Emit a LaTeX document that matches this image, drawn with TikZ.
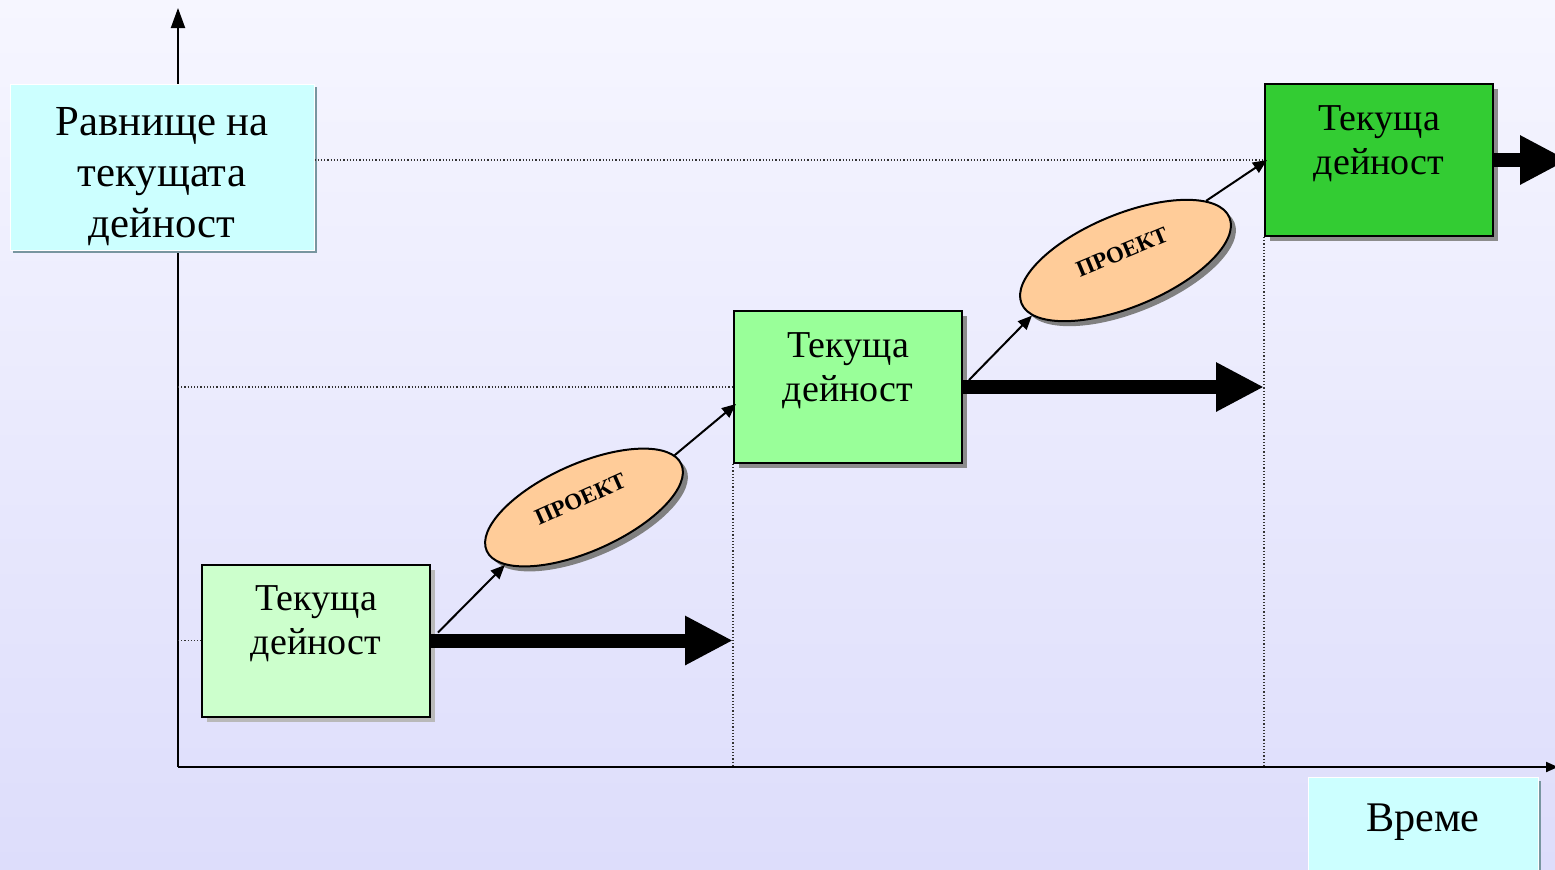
\documentclass[tikz,border=0pt]{standalone}
\usepackage{fontspec}
\setmainfont{Liberation Serif}
\usetikzlibrary{arrows.meta,shapes.geometric,shadows,calc}
\definecolor{bgtop}{RGB}{246,246,255}
\definecolor{bgbot}{RGB}{221,221,251}
\definecolor{lblfill}{RGB}{204,255,255}
\definecolor{lblshadow}{RGB}{120,150,160}
\definecolor{actA}{RGB}{204,255,204}
\definecolor{actB}{RGB}{153,255,153}
\definecolor{actC}{RGB}{51,204,51}
\definecolor{projfill}{RGB}{255,204,153}
\begin{document}
\begin{tikzpicture}[x=0.5pt,y=-0.5pt,
  labelbox/.style={fill=lblfill, draw=white, line width=0.5pt, align=center, inner sep=0pt,
    drop shadow={shadow xshift=1.5pt, shadow yshift=-1.5pt, fill=lblshadow, opacity=1}},
  actbox/.style={draw=black, line width=1pt, minimum width=114pt, minimum height=76pt,
    align=center, font=\fontsize{19}{22}\selectfont, inner sep=0pt,
    text height=45pt, text depth=31pt},
  actshadow/.style={drop shadow={shadow xshift=2.5pt, shadow yshift=-2.5pt, fill=gray!90, opacity=1}},
  proj/.style={ellipse, draw=black, line width=1pt, fill=projfill,
    font=\bfseries\fontsize{11.5}{13}\selectfont, inner sep=0pt,
    text height=8pt, text depth=9.5pt,
    drop shadow={shadow xshift=2.5pt, shadow yshift=-2.5pt, fill=gray, opacity=1}},
  link/.style={line width=1pt, -{Triangle[length=7pt,width=6pt]}},
  flow/.style={line width=7pt, -{Triangle[length=24pt,width=23pt]}},
  guide/.style={densely dotted, line width=0.6pt, black!80},
  axisline/.style={line width=1pt}
]
\shade[top color=bgtop, bottom color=bgbot] (0,0) rectangle (1555,869);
\useasboundingbox (0,0) rectangle (1555,869);

% axes
\coordinate (O) at (178,767);
\coordinate (ytop) at (178,8);
\coordinate (xend) at (1558,767);
\draw[axisline, -{Triangle[length=10pt,width=7pt]}] (O) -- (ytop);
\draw[axisline, -{Triangle[length=6pt,width=5pt]}] (O) -- (xend);

% labels
\node[labelbox, minimum width=152pt, minimum height=83pt, text height=76.5pt, text depth=6.5pt,
  font=\fontsize{21.4}{25.5}\selectfont]
  (lvl) at (162,167) {Равнище на\\текущата\\дейност};
\node[labelbox, anchor=north, minimum width=115pt, text height=27pt, text depth=24.5pt,
  inner ysep=0pt, font=\fontsize{21.1}{25}\selectfont] (time) at (1423,777) {Време};

% activity boxes
\node[actbox, fill=actA, drop shadow={shadow xshift=2.5pt, shadow yshift=-2.5pt, fill=gray!55, opacity=1}]
  (b1) at (316,640.5) {Текуща\\дейност};
\node[actbox, actshadow, fill=actB] (b2) at (848,387) {Текуща\\дейност};
\node[actbox, actshadow, fill=actC] (b3) at (1379,160) {Текуща\\дейност};

% guides
\draw[guide] (lvl.east |- b3.west) -- (b3.west);
\draw[guide] (O |- b2.west) -- (b2.west);
\draw[guide] (O |- b1.west) -- (b1.west);
\draw[guide] (b2.south west) -- (b2.south west |- O);
\draw[guide] (b3.south west) -- (b3.south west |- O);

% projects
\node[proj, rotate=24, minimum width=106.5pt, minimum height=43.7pt] (e1) at (584,507.5) {ПРОЕКТ};
\node[proj, rotate=22.5, minimum width=112.5pt, minimum height=46.3pt] (e2) at (1125.5,260.5) {ПРОЕКТ};

% thick flows
\coordinate (f3) at (1568,160);
\draw[flow] (b1.east) -- (b1.east -| b2.west);
\draw[flow] (b2.east) -- (b2.east -| b3.west);
\draw[flow] (b3.east) -- (f3);

% thin links
\draw[link] ($(b1.east)+(7,-8)$) -- (e1.192.5);
\draw[link] (e1.6.5) -- ($(b2.west)+(3,17)$);
\draw[link] ($(b2.east)+(6,-7)$) -- (e2.188.5);
\draw[link] (e2.14) -- ($(b3.west)+(3,0)$);
\end{tikzpicture}
\end{document}
